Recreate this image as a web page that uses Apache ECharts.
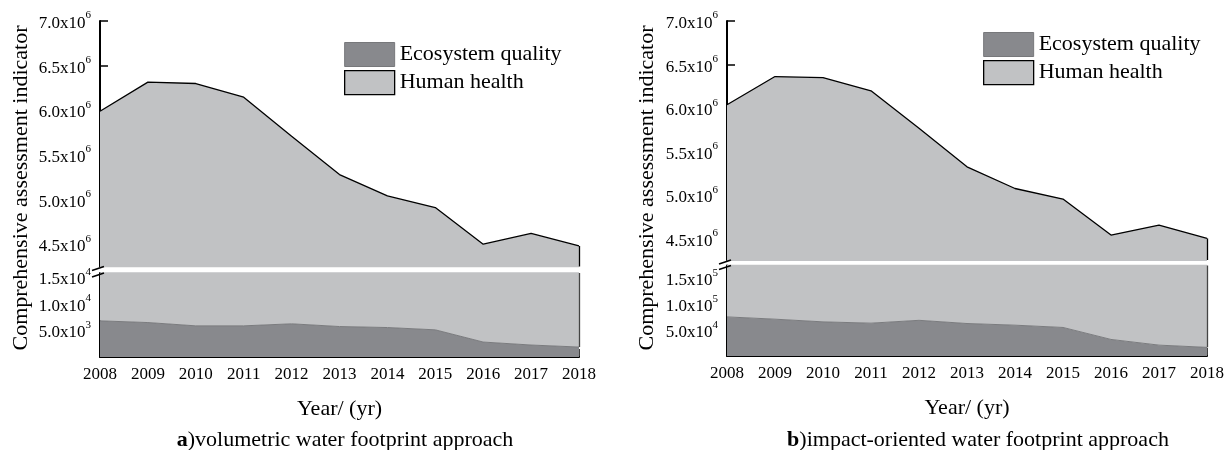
<!DOCTYPE html>
<html>
<head>
<meta charset="utf-8">
<script src="https://cdn.jsdelivr.net/npm/echarts@6/dist/echarts.min.js"></script>
<style>
  html, body { margin: 0; padding: 0; background: #fff; }
  #chart { width: 1230px; height: 450px; }
</style>
</head>
<body>
<div id="chart"></div>
<script>
// data
const years = ["2008", "2009", "2010", "2011", "2012", "2013", "2014", "2015", "2016", "2017", "2018"];

// a) volumetric water footprint approach
const ecoA = [6800, 6480, 5860, 5860, 6240, 5730, 5540, 5110, 2810, 2250, 1870];
const humanA = [5983000, 6309000, 6294000, 6141000, 5704000, 5274000, 5035000, 4905000, 4497000, 4618000, 4478000];

// b) impact-oriented water footprint approach
const ecoB = [75600, 71200, 66000, 63500, 69000, 62800, 59600, 55200, 32000, 21000, 16700];
const humanB = [5964000, 6292000, 6284000, 6136000, 5701000, 5265000, 5020000, 4903000, 4514000, 4639000, 4491000];

// tick labels
const upperTicks = [4.5e6, 5.0e6, 5.5e6, 6.0e6, 6.5e6, 7.0e6];
const lowerTicksA = [5.0e3, 1.0e4, 1.5e4];
const lowerTicksB = [5.0e4, 1.0e5, 1.5e5];

const FONT = "Liberation Serif";
const LIGHT = "#c1c2c4";
const DARK = "#88898d";

// "4.5x10^6" style labels
function sciLabel(v) {
  const e = Math.floor(Math.log10(v) + 1e-9);
  const m = (v / Math.pow(10, e)).toFixed(1);
  return "{m|" + m + "x10}{e|" + e + "}";
}

const labelRich = {
  m: { fontSize: 17, lineHeight: 22, verticalAlign: "bottom", fontFamily: FONT, color: "#000" },
  e: { fontSize: 11, lineHeight: 11, verticalAlign: "top", fontFamily: FONT, color: "#000" }
};

// one panel = upper grid (big values) + lower grid (small values)
const panels = [
  { left: 100, width: 479, upTop: 21, upH: 245.5, upMin: 4.25e6, loTop: 273, loH: 84, loMax: 15800,
    eco: ecoA, human: humanA, lowTicks: lowerTicksA },
  { left: 727, width: 480, upTop: 21, upH: 239, upMin: 4.26e6, loTop: 265.5, loH: 90.5, loMax: 175000,
    eco: ecoB, human: humanB, lowTicks: lowerTicksB }
];

const grid = [], xAxis = [], yAxis = [], series = [];

panels.forEach((p, i) => {
  const gu = grid.length;
  grid.push({ left: p.left, top: p.upTop, width: p.width, height: p.upH });
  grid.push({ left: p.left, top: p.loTop, width: p.width, height: p.loH });

  const axisLine = { show: true, lineStyle: { color: "#000", width: 2 } };
  const axisTick = { show: true, inside: true, length: 8, lineStyle: { color: "#000", width: 1.5 } };

  xAxis.push({ gridIndex: gu, type: "category", data: years, boundaryGap: false, show: false });
  xAxis.push({
    gridIndex: gu + 1, type: "category", data: years, boundaryGap: false,
    axisLine: axisLine, axisTick: { ...axisTick, alignWithLabel: true },
    axisLabel: { fontSize: 17, fontFamily: FONT, color: "#000", margin: 9 },
    name: "Year/ (yr)", nameLocation: "middle", nameGap: 41,
    nameTextStyle: { fontSize: 22, fontFamily: FONT, color: "#000" }
  });

  yAxis.push({
    gridIndex: gu, type: "value", min: p.upMin, max: 7.0e6,
    axisLine: axisLine, splitLine: { show: false },
    axisTick: { ...axisTick, customValues: upperTicks },
    axisLabel: { customValues: upperTicks, formatter: sciLabel, rich: labelRich, margin: 9 }
  });
  yAxis.push({
    gridIndex: gu + 1, type: "value", min: 0, max: p.loMax,
    axisLine: axisLine, splitLine: { show: false },
    axisTick: { ...axisTick, customValues: p.lowTicks },
    axisLabel: { customValues: p.lowTicks, formatter: sciLabel, rich: labelRich, margin: 9 }
  });

  const last = years[years.length - 1];
  const lastEco = p.eco[p.eco.length - 1];
  const lastTotal = lastEco + p.human[p.human.length - 1];

  [gu, gu + 1].forEach((g, k) => {
    const stack = "s" + g;
    series.push({
      name: "Ecosystem quality", type: "line", xAxisIndex: g, yAxisIndex: g, stack: stack,
      data: p.eco, symbol: "none", clip: true,
      lineStyle: { color: "#7a7b7e", width: 1 },
      itemStyle: { color: DARK },
      areaStyle: { color: DARK, opacity: 1 },
      markLine: k === 1 ? {
        silent: true, symbol: "none", label: { show: false },
        lineStyle: { color: "#444", type: "solid", width: 1.3 },
        data: [[{ coord: [last, lastEco] }, { coord: [last, p.loMax] }]]
      } : undefined
    });
    series.push({
      name: "Human health", type: "line", xAxisIndex: g, yAxisIndex: g, stack: stack,
      data: p.human, symbol: "none", clip: true,
      lineStyle: { color: "#000", width: 1.3 },
      itemStyle: { color: LIGHT },
      areaStyle: { color: LIGHT, opacity: 1 },
      markLine: k === 0 ? {
        silent: true, symbol: "none", label: { show: false },
        lineStyle: { color: "#000", type: "solid", width: 1.3 },
        data: [[{ coord: [last, lastTotal] }, { coord: [last, p.upMin] }]]
      } : undefined
    });
  });
});

const legendData = [
  { name: "Ecosystem quality", itemStyle: { color: DARK, borderColor: "#77787b", borderWidth: 1 } },
  { name: "Human health", itemStyle: { color: LIGHT, borderColor: "#000", borderWidth: 1.3 } }
];
const legendBase = {
  orient: "vertical", icon: "rect", itemWidth: 50, itemHeight: 24, itemGap: 3, padding: 0,
  textStyle: { fontSize: 22, fontFamily: FONT, color: "#000" }, data: legendData
};

// break marks on the y axes
function breakMarks(x, yTop, yBot) {
  const ls = { stroke: "#000", lineWidth: 1.5 };
  return [
    { type: "line", shape: { x1: x - 8, y1: yTop + 4, x2: x + 4, y2: yTop }, style: ls, z: 100 },
    { type: "line", shape: { x1: x - 8, y1: yBot + 4, x2: x + 4, y2: yBot }, style: ls, z: 100 }
  ];
}

const yName = "Comprehensive assessment indicator";
const capRich = {
  b: { fontSize: 22, fontWeight: "bold", fontFamily: FONT, fill: "#000" },
  n: { fontSize: 22, fontFamily: FONT, fill: "#000" }
};
const graphic = [
  { type: "text", x: 21, y: 188, rotation: Math.PI / 2,
    style: { text: yName, fontSize: 22, fontFamily: FONT, fill: "#000", align: "center", verticalAlign: "middle" } },
  { type: "text", x: 647, y: 188, rotation: Math.PI / 2,
    style: { text: yName, fontSize: 22, fontFamily: FONT, fill: "#000", align: "center", verticalAlign: "middle" } },
  { type: "text", x: 345, y: 440,
    style: { text: "{b|a}{n|)volumetric water footprint approach}", align: "center", verticalAlign: "middle", rich: capRich } },
  { type: "text", x: 978, y: 440,
    style: { text: "{b|b}{n|)impact-oriented water footprint approach}", align: "center", verticalAlign: "middle", rich: capRich } },
  ...breakMarks(100, 266.5, 273),
  ...breakMarks(727, 260, 265.5)
];

const chart = echarts.init(document.getElementById("chart"), null, { renderer: "canvas" });
chart.setOption({
  animation: false,
  backgroundColor: "#fff",
  grid: grid,
  xAxis: xAxis,
  yAxis: yAxis,
  legend: [
    { ...legendBase, left: 344, top: 42 },
    { ...legendBase, left: 983, top: 32 }
  ],
  graphic: graphic,
  series: series
});
</script>
</body>
</html>
